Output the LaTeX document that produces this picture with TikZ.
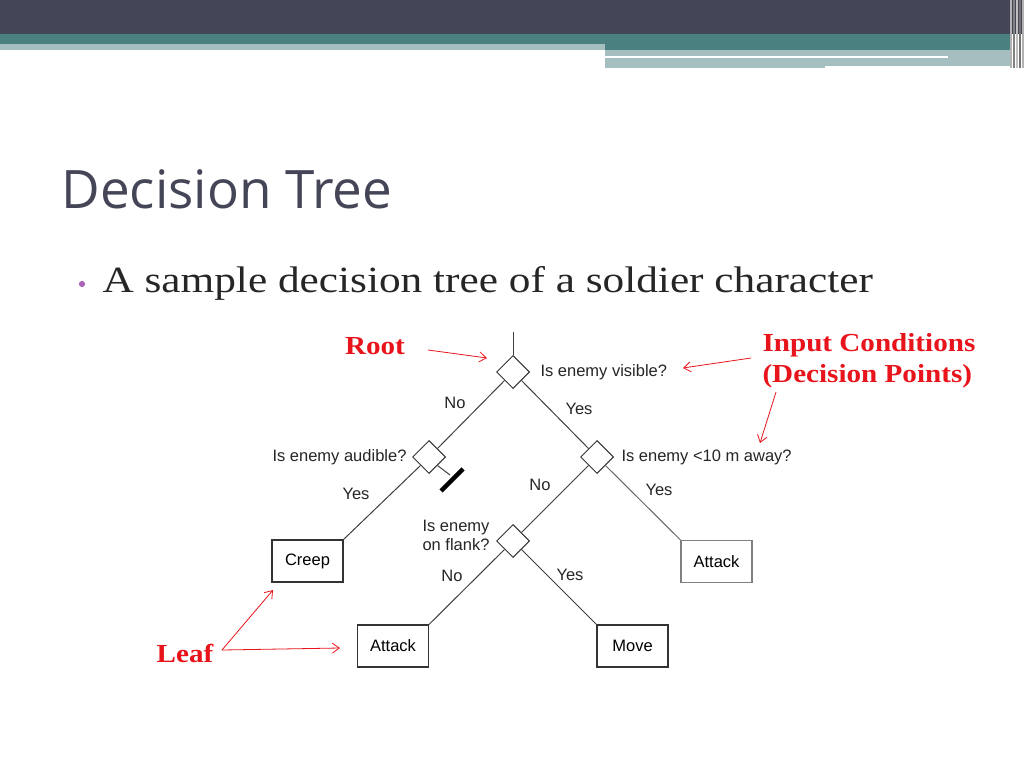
\documentclass[tikz,border=0pt]{standalone}
\usepackage{fontspec}
\setmainfont{Liberation Serif}
\newfontfamily\lab{Liberation Sans}
\newfontfamily\ttl{Open Sans}
\newfontfamily\subf[FakeStretch=1.17]{Liberation Serif}
\newfontfamily\annf[FakeStretch=1.12]{Liberation Serif}
\usetikzlibrary{shapes.geometric,arrows.meta}
\definecolor{dark}{HTML}{454558}
\definecolor{teal}{HTML}{4A8080}
\definecolor{lteal}{HTML}{A5BEC0}
\definecolor{ann}{HTML}{E8141B}
\tikzset{
 dia/.style={draw=black!80,line width=1pt,diamond,minimum size=33pt,inner sep=0pt},
 leaf/.style={draw=black!80,line width=1.1pt,minimum width=71pt,minimum height=42pt,font=\lab\fontsize{16.5}{18}\selectfont},
 tl/.style={font=\lab\fontsize{16.5}{19}\selectfont,text=black!85},
 br/.style={draw=black!75,line width=1pt},
 an/.style={font=\annf\bfseries\fontsize{26}{31}\selectfont,text=ann},
 ar/.style={draw=ann,-{Straight Barb[length=7pt,width=10pt]},line width=0.8pt}
}
\begin{document}
\begin{tikzpicture}[x=1pt,y=-1pt]
\useasboundingbox (0,0) rectangle (1024,768);
\fill[white] (0,0) rectangle (1024,768);
\fill[dark] (0,0) rectangle (1024,34);
\fill[teal] (0,34) rectangle (1010,50);
\fill[lteal] (0,44) rectangle (605,50);
\fill[lteal] (605,50) rectangle (1010,68);
\fill[white] (605,56) rectangle (948,58);
\fill[white] (825,66) rectangle (1010,68);
\foreach \x/\c in {1010/black!30,1013/black!50,1016/black!25,1019/black!55,1022/black!30}
  \fill[\c] (\x,0) rectangle ++(2,68);
\node[anchor=base west,font=\ttl\fontsize{53}{58}\selectfont,text=dark] (title) at (58,208) {Decision Tree};
\node[circle,fill=purple!60!blue!60,inner sep=2.2pt] (bul) at (82,284) {};
\node[anchor=west,font=\subf\fontsize{37}{42}\selectfont,text=black!85] (sub) at (99,283) {A sample decision tree of a soldier character};
% tree
\node[dia] (d1) at (513,372) {};
\node[dia] (d2) at (429,457) {};
\node[dia] (d3) at (597,457) {};
\node[dia] (d4) at (513,541) {};
\node[leaf] (creep) at (307.5,561) {Creep};
\node[leaf,draw=black!50] (att1) at (716.5,561.5) {Attack};
\node[leaf] (att2) at (393,646) {Attack};
\node[leaf] (move) at (632.5,646) {Move};
\coordinate (top) at (513,332);
\coordinate (blk) at (450,475);
\draw[br] (top) -- (d1.north);
\draw[br] (d1.south west) -- (d2.north east);
\draw[br] (d1.south east) -- (d3.north west);
\draw[br] (d2.south west) -- (creep.north east);
\draw[br] (d2.south east) -- (blk);
\draw[line width=4.5pt] (441,491) -- (463,469);
\draw[br] (d3.south west) -- (d4.north east);
\draw[br,draw=black!60] (d3.south east) -- (att1.north west);
\draw[br] (d4.south west) -- (att2.north east);
\draw[br] (d4.south east) -- (move.north west);
\node[tl,anchor=west] (q1) at (537,372) {Is enemy visible?};
\node[tl,anchor=east] (q2) at (410,457) {Is enemy audible?};
\node[tl,anchor=west] (q3) at (618,457) {Is enemy <10 m away?};
\node[tl,anchor=east,align=left] (q4) at (493,535) {Is enemy\\on flank?};
\node[tl] (n1) at (455,403) {No};
\node[tl] (y1) at (579,409) {Yes};
\node[tl] (y2) at (356,494) {Yes};
\node[tl] (n3) at (540,485) {No};
\node[tl] (y3) at (659,490) {Yes};
\node[tl] (n4) at (452,576) {No};
\node[tl] (y4) at (570,575) {Yes};
% annotations
\node[an] (root) at (375,346) {Root};
\node[an,align=left,anchor=west] (inp) at (759,361) {Input Conditions\\(Decision Points)};
\node[an] (leaflab) at (185,653) {Leaf};
\coordinate (rS) at (428,350);
\coordinate (rA) at (487,358);
\draw[ar] (rS) -- (rA);
\coordinate (iA) at (683,368);
\coordinate (iS) at (751,358);
\draw[ar] (iS) -- (iA);
\coordinate (iB) at (760,443);
\coordinate (iS2) at (776,392);
\draw[ar] (iS2) -- (iB);
\coordinate (lS) at (222,650);
\coordinate (lA) at (273,590);
\coordinate (lB) at (340,648);
\draw[ar] (lS) -- (lA);
\draw[ar] (lS) -- (lB);
\end{tikzpicture}
\end{document}
